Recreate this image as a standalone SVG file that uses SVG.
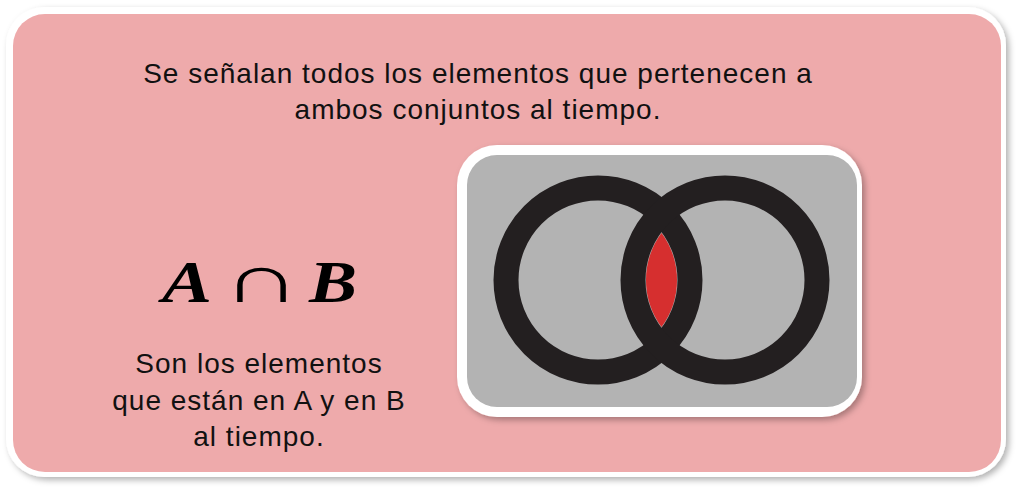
<svg xmlns="http://www.w3.org/2000/svg" width="1018" height="490" viewBox="0 0 1018 490">
<defs>
<style>
.t{font-family:"Liberation Sans",Arial,sans-serif;font-size:28px;letter-spacing:1px;fill:#111;text-anchor:middle}
.m{font-family:"Liberation Serif","Times New Roman",serif;font-size:60px;fill:#000}
.cap{font-family:"Liberation Serif","Times New Roman",serif;font-size:68px;fill:#000}
.ring{fill:none;stroke:#231f20;stroke-width:25}
</style>
<filter id="sh" x="-5%" y="-5%" width="110%" height="115%">
<feDropShadow dx="3" dy="3" stdDeviation="3" flood-color="#000" flood-opacity="0.3"/>
</filter>
</defs>
<rect width="1018" height="490" fill="#fff"/>
<g id="card">
<rect x="6" y="7" width="1000" height="470" rx="38" fill="#fff" filter="url(#sh)"/>
<rect x="13" y="14" width="988" height="458" rx="32" fill="#eeaaab"/>
</g>
<g id="title">
<text class="t" x="478" y="83">Se señalan todos los elementos que pertenecen a</text>
<text class="t" x="478" y="119">ambos conjuntos al tiempo.</text>
</g>
<g id="formula">
<text class="m" transform="translate(162 302) scale(1.25 1)" font-weight="bold" font-style="italic">A</text>
<text class="cap" transform="translate(222 302) scale(1.6 1)">∩</text>
<text class="m" transform="translate(309 302) scale(1.2 1)" font-weight="bold" font-style="italic">B</text>
</g>
<g id="desc">
<text class="t" x="259" y="373">Son los elementos</text>
<text class="t" x="259" y="410">que están en A y en B</text>
<text class="t" x="259" y="446">al tiempo.</text>
</g>
<g id="venn">
<rect x="457" y="145" width="405" height="272" rx="40" fill="#fff" filter="url(#sh)"/>
<rect x="467" y="155" width="390" height="252" rx="30" fill="#b3b3b3"/>
<path d="M661.5 233 A79 79 0 0 1 661.5 327 A79 79 0 0 1 661.5 233 Z" fill="#d62f2f"/>
<circle class="ring" cx="598" cy="280" r="92"/>
<circle class="ring" cx="725" cy="280" r="92"/>
</g>
</svg>
